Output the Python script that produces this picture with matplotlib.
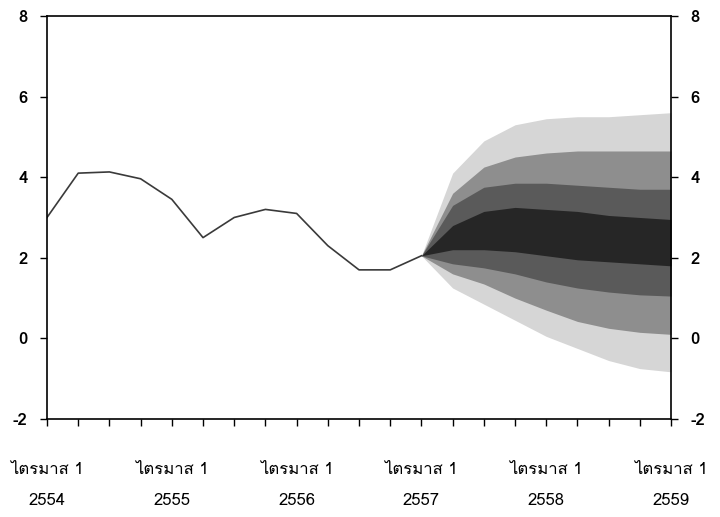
import matplotlib

matplotlib.use("Agg")
import matplotlib.pyplot as plt
from matplotlib import font_manager
from matplotlib.ft2font import FT2Font


# quarter index 0 = Q1 2554 ... 20 = Q1 2559
hist_q = list(range(13))
hist_vals = [3.0, 4.1, 4.13, 3.96, 3.45, 2.5, 3.0, 3.2, 3.1, 2.3, 1.7, 1.7, 2.05]

fan_q = list(range(12, 21))
upper90 = [2.05, 4.1, 4.9, 5.3, 5.45, 5.5, 5.5, 5.55, 5.6]
lower90 = [2.05, 1.25, 0.85, 0.45, 0.05, -0.25, -0.55, -0.75, -0.83]
upper70 = [2.05, 3.6, 4.25, 4.5, 4.6, 4.65, 4.65, 4.65, 4.65]
lower70 = [2.05, 1.6, 1.35, 1.0, 0.7, 0.42, 0.25, 0.15, 0.1]
upper50 = [2.05, 3.3, 3.75, 3.85, 3.85, 3.8, 3.75, 3.7, 3.7]
lower50 = [2.05, 1.85, 1.75, 1.6, 1.4, 1.25, 1.15, 1.08, 1.05]
upper30 = [2.05, 2.8, 3.15, 3.25, 3.2, 3.15, 3.05, 3.0, 2.95]
lower30 = [2.05, 2.2, 2.2, 2.15, 2.05, 1.95, 1.9, 1.85, 1.8]

year_ticks = [0, 4, 8, 12, 16, 20]
year_labels = ["ไตรมาส 1\n2554", "ไตรมาส 1\n2555", "ไตรมาส 1\n2556",
               "ไตรมาส 1\n2557", "ไตรมาส 1\n2558", "ไตรมาส 1\n2559"]
y_ticks = [-2, 0, 2, 4, 6, 8]


def find_thai_family():
    for entry in font_manager.fontManager.ttflist:
        try:
            if 0x0E44 in FT2Font(entry.fname).get_charmap():
                return entry.name
        except Exception:
            continue
    return None


thai = find_thai_family()
plt.rcParams["font.family"] = [thai, "DejaVu Sans"] if thai else ["DejaVu Sans"]

fig = plt.figure(figsize=(7.2, 5.17), dpi=100)
ax = fig.add_axes([0.0653, 0.1896, 0.8667, 0.7795])

bands = [
    (upper90, lower90, "#d6d6d6"),
    (upper70, lower70, "#8e8e8e"),
    (upper50, lower50, "#5a5a5a"),
    (upper30, lower30, "#262626"),
]
for upper, lower, color in bands:
    ax.fill_between(fan_q, lower, upper, color=color, linewidth=0)

ax.plot(hist_q, hist_vals, color="#3a3a3a", linewidth=1.2)

ax.set_xlim(0, 20)
ax.set_ylim(-2, 8)
ax.set_yticks(y_ticks)
ax.set_yticklabels([str(v) for v in y_ticks])
ax.set_xticks(year_ticks)
ax.set_xticklabels(year_labels, linespacing=2.25)
ax.set_xticks(range(21), minor=True)

ax.tick_params(axis="y", which="both", left=True, right=True, labelleft=True, labelright=True,
               direction="out", length=5, width=1, pad=9, labelsize=12)
for label in ax.get_yticklabels():
    label.set_fontweight("bold")
ax.tick_params(axis="x", which="major", direction="out", length=5, width=1, pad=26, labelsize=12)
ax.tick_params(axis="x", which="minor", direction="out", length=5, width=1)

for spine in ax.spines.values():
    spine.set_linewidth(1.2)
    spine.set_color("black")

fig.savefig("out.png", dpi=100)
plt.close(fig)
